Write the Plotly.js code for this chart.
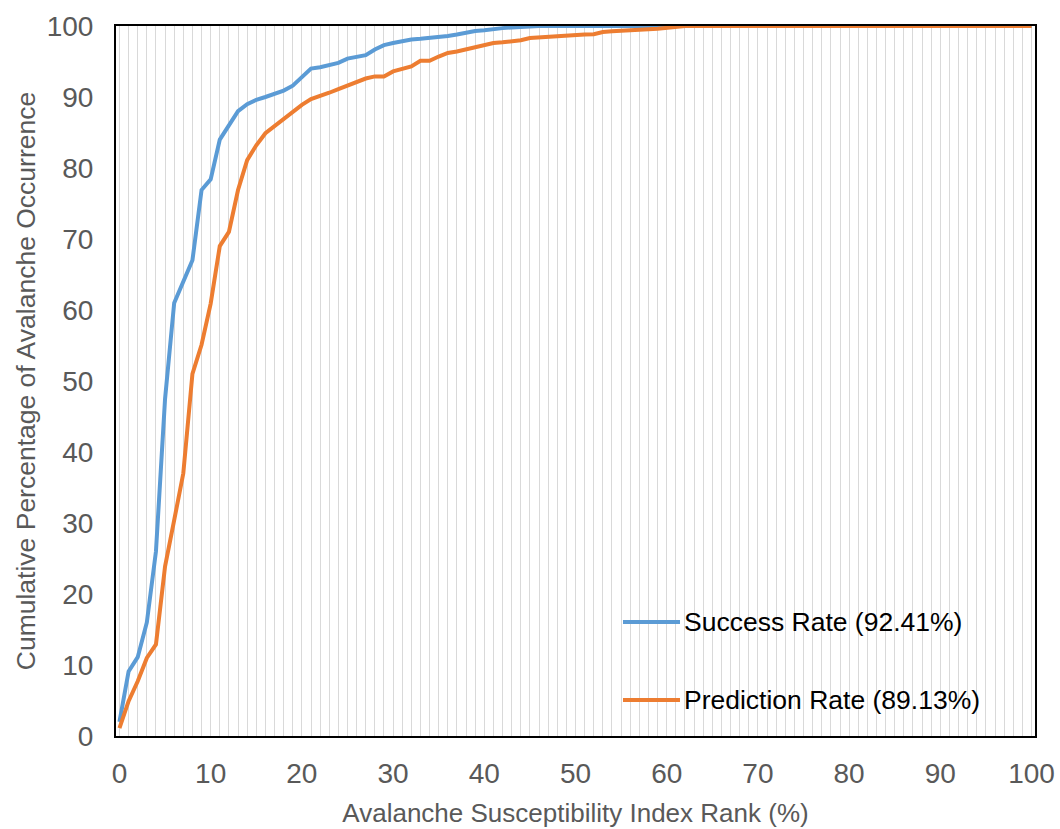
<!DOCTYPE html>
<html>
<head>
<meta charset="utf-8">
<script src="https://cdn.plot.ly/plotly-3.0.1.min.js"></script>
<style>
  html, body { margin: 0; padding: 0; background: #ffffff; }
  #chart { width: 1060px; height: 829px; }
</style>
</head>
<body>
<div id="chart"></div>
<script>
// Susceptibility index rank (%) — one category per percent
const rank = [
  0, 1, 2, 3, 4, 5, 6, 7, 8, 9, 10, 11, 12, 13, 14, 15, 16, 17, 18, 19, 20,
  21, 22, 23, 24, 25, 26, 27, 28, 29, 30, 31, 32, 33, 34, 35, 36, 37, 38, 39, 40,
  41, 42, 43, 44, 45, 46, 47, 48, 49, 50, 51, 52, 53, 54, 55, 56, 57, 58, 59, 60,
  61, 62, 63, 64, 65, 66, 67, 68, 69, 70, 71, 72, 73, 74, 75, 76, 77, 78, 79, 80,
  81, 82, 83, 84, 85, 86, 87, 88, 89, 90, 91, 92, 93, 94, 95, 96, 97, 98, 99, 100
];

// Cumulative percentage of avalanches, training set
const successRate = [
  2.0, 9.1, 11.1, 16.0, 26.0, 47.5, 61.0, 64.0, 67.0, 76.9, 78.4,
  84.0, 86.0, 88.0, 89.0, 89.6, 90.0, 90.4, 90.9, 91.6, 92.9,
  94.0, 94.2, 94.5, 94.8, 95.4, 95.6, 95.9, 96.7, 97.3, 97.6,
  97.9, 98.1, 98.2, 98.3, 98.4, 98.6, 98.8, 99.1, 99.3, 99.4,
  99.6, 99.7, 99.8, 99.9, 100, 100, 100, 100, 100, 100,
  100, 100, 100, 100, 100, 100, 100, 100, 100, 100,
  100, 100, 100, 100, 100, 100, 100, 100, 100, 100,
  100, 100, 100, 100, 100, 100, 100, 100, 100, 100,
  100, 100, 100, 100, 100, 100, 100, 100, 100, 100,
  100, 100, 100, 100, 100, 100, 100, 100, 100, 100
];

// Cumulative percentage of avalanches, validation set
const predictionRate = [
  1.1, 4.9, 7.7, 11.0, 12.9, 23.9, 30.4, 37.0, 51.0, 55.1, 60.9,
  69.0, 71.0, 76.9, 81.1, 83.2, 84.9, 85.9, 86.9, 87.9, 88.9,
  89.7, 90.1, 90.6, 91.1, 91.6, 92.0, 92.6, 92.9, 92.9, 93.6,
  93.9, 94.3, 95.1, 95.1, 95.7, 96.2, 96.4, 96.7, 97.1, 97.4,
  97.6, 97.7, 97.8, 98.0, 98.3, 98.4, 98.45, 98.5, 98.6, 98.7,
  98.8, 98.85, 99.15, 99.25, 99.35, 99.4, 99.45, 99.55, 99.6, 99.75,
  99.9, 100, 100, 100, 100, 100, 100, 100, 100, 100,
  100, 100, 100, 100, 100, 100, 100, 100, 100, 100,
  100, 100, 100, 100, 100, 100, 100, 100, 100, 100,
  100, 100, 100, 100, 100, 100, 100, 100, 100, 100
];

const seriesNames = ['Success Rate (92.41%)', 'Prediction Rate (89.13%)'];
const seriesColors = ['#5B9BD5', '#ED7D31'];

const W = 1060, H = 829;
const M = { l: 116, r: 25, t: 26, b: 93 };
const plotW = W - M.l - M.r, plotH = H - M.t - M.b;
const px = v => (v - M.l) / plotW;        // pixel -> paper x
const py = v => 1 - (v - M.t) / plotH;    // pixel -> paper y

const FONT = '"Liberation Sans", Arial, sans-serif';

const traces = [successRate, predictionRate].map((vals, i) => ({
  type: 'scatter',
  mode: 'lines',
  x: rank,
  y: vals,
  name: seriesNames[i],
  line: { color: seriesColors[i], width: 4 },
  cliponaxis: false,
  showlegend: false,
  hoverinfo: 'x+y+name'
}));

// Legend placed inside the plot area, lower right
const legendRows = [622, 700];
const shapes = legendRows.map((y, i) => ({
  type: 'line', xref: 'paper', yref: 'paper',
  x0: px(623), x1: px(680), y0: py(y), y1: py(y),
  line: { color: seriesColors[i], width: 4 }
}));
const annotations = legendRows.map((y, i) => ({
  xref: 'paper', yref: 'paper',
  x: px(682), y: py(y),
  xanchor: 'left', yanchor: 'middle',
  text: seriesNames[i], showarrow: false,
  font: { family: FONT, size: 26.5, color: '#000000' }
}));

const layout = {
  width: W, height: H,
  margin: M,
  paper_bgcolor: '#ffffff',
  plot_bgcolor: '#ffffff',
  showlegend: false,
  xaxis: {
    range: [-0.38, 100.38],
    tickmode: 'linear', tick0: 0, dtick: 10,
    ticks: 'outside', ticklen: 11, tickcolor: 'rgba(0,0,0,0)',
    showgrid: true, gridcolor: '#D9D9D9', gridwidth: 1.1,
    minor: { dtick: 1, tick0: 0, showgrid: true, gridcolor: '#D9D9D9', gridwidth: 1.1, ticks: '' },
    showline: true, mirror: true, linecolor: '#000000', linewidth: 2,
    layer: 'below traces',
    zeroline: false,
    tickfont: { family: FONT, size: 28, color: '#595959' },
    title: { text: 'Avalanche Susceptibility Index Rank (%)', standoff: 16,
             font: { family: FONT, size: 26, color: '#595959' } }
  },
  yaxis: {
    range: [0, 100],
    tickmode: 'linear', tick0: 0, dtick: 10,
    ticks: 'outside', ticklen: 15, tickcolor: 'rgba(0,0,0,0)',
    showgrid: false,
    showline: true, mirror: true, linecolor: '#000000', linewidth: 2,
    layer: 'below traces',
    zeroline: false,
    tickfont: { family: FONT, size: 28, color: '#595959' },
    title: { text: 'Cumulative Percentage of Avalanche Occurrence', standoff: 3,
             font: { family: FONT, size: 26.5, color: '#595959' } }
  },
  shapes: shapes,
  annotations: annotations
};

Plotly.newPlot('chart', traces, layout, { displayModeBar: false });
</script>
</body>
</html>
